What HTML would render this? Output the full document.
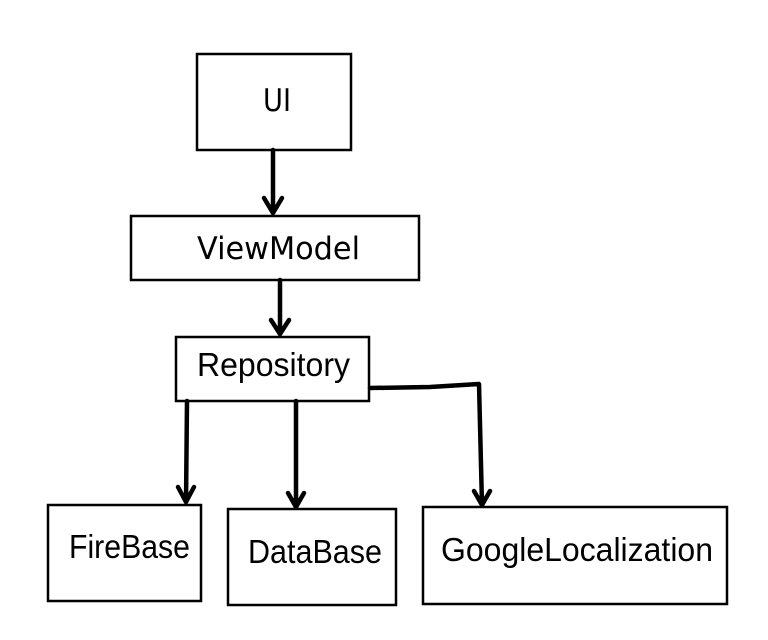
<!DOCTYPE html>
<html><head><style>body{margin:0;background:#fff}svg{display:block}</style></head>
<body>
<svg width="768" height="640" viewBox="0 0 768 640" xmlns="http://www.w3.org/2000/svg">
<rect width="768" height="640" fill="#fff"/>
<g fill="none" stroke="#000" stroke-width="2.5">
<rect x="197" y="54" width="154" height="96"/>
<rect x="131" y="216" width="288" height="64"/>
<rect x="176" y="337" width="193" height="64"/>
<rect x="48" y="505" width="153" height="96"/>
<rect x="228" y="509" width="168" height="96"/>
<rect x="423" y="507" width="304" height="97"/>
</g>
<g fill="none" stroke="#000" stroke-width="4.5" stroke-linecap="round" stroke-linejoin="round">
<path d="M273 150 L273 213 M264 198 L273 213 L282 198"/>
<path d="M280 280 L280 334 M271 320 L280 334 L289 320"/>
<path d="M187 401 L186 502 M178 487 L186 502 L194 487"/>
<path d="M296 401 L296 507 M288 493 L296 507 L304 493"/>
<path d="M370 388 L430 387 L479 384 L482 505 M474 491 L482 505 L490 491"/>
</g>
<g font-family="DejaVu Sans, sans-serif" font-size="31" fill="#000">
<text x="263" y="111" textLength="28" lengthAdjust="spacingAndGlyphs">UI</text>
<text x="197" y="259" textLength="163" lengthAdjust="spacingAndGlyphs">ViewModel</text>
</g>
<g font-family="Liberation Sans, sans-serif" font-size="33" fill="#000">
<text x="197" y="376" textLength="153" lengthAdjust="spacingAndGlyphs">Repository</text>
<text x="69" y="558" textLength="121" lengthAdjust="spacingAndGlyphs">FireBase</text>
<text x="248" y="563" textLength="134" lengthAdjust="spacingAndGlyphs">DataBase</text>
<text x="441" y="561" textLength="272" lengthAdjust="spacingAndGlyphs">GoogleLocalization</text>
</g>
</svg>
</body></html>
